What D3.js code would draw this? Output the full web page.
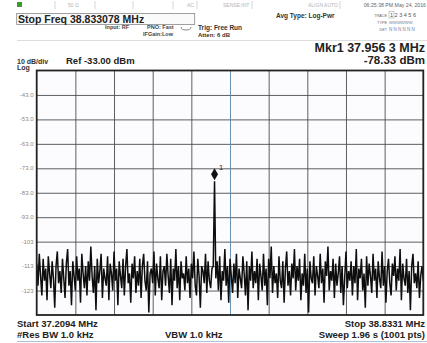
<!DOCTYPE html>
<html>
<head>
<meta charset="utf-8">
<script src="https://cdn.jsdelivr.net/npm/d3@7"></script>
<style>
  body { margin: 0; background: #fff; }
  svg { display: block; font-family: "Liberation Sans", Arial, sans-serif; }
</style>
</head>
<body>
<svg id="chart" width="427" height="343"></svg>
<script>
// sweep settings
const startFreq = 37.2094;
const stopFreq = 38.8331;
const refLevel = -33;
const bottomLevel = -133;

// grid ticks
const yTicks = [-43, -53, -63, -73, -83, -93, -103, -113, -123];
const yTickLabels = ["-43.0", "-53.0", "-63.0", "-73.0", "-83.0", "-93.0", "-103", "-113", "-123"];
const xDivisions = [0, 1, 2, 3, 4, 5, 6, 7, 8, 9, 10];

// marker
const markerFreq = 37.9563;
const markerLevel = -78.33;

// trace (dBm)
const trace = [
  -112,-121,-108,-117,-125,-110,-119,-114,-127,-109,-116,-122,-111,-118,-130,-113,-107,-120,-115,-124,
  -110,-118,-126,-112,-106,-121,-115,-129,-111,-117,-123,-109,-119,-114,-128,-108,-116,-122,-113,-125,
  -111,-119,-105,-117,-124,-113,-131,-110,-120,-115,-108,-126,-114,-118,-121,-109,-127,-112,-116,-123,
  -107,-119,-114,-129,-111,-117,-122,-110,-125,-113,-106,-120,-116,-128,-112,-118,-109,-124,-115,-121,
  -110,-126,-113,-108,-119,-123,-111,-132,-116,-114,-120,-107,-125,-112,-118,-122,-109,-127,-115,-113,
  -121,-108,-117,-124,-110,-129,-114,-119,-106,-122,-113,-127,-111,-118,-116,-123,-109,-120,-114,-126,
  -112,-118,-107,-121,-125,-110,-117,-130,-113,-115,-120,-108,-124,-111,-119,-122,-114,-113,-78.33,-118,
  -111,-123,-109,-127,-115,-119,-106,-121,-113,-128,-110,-117,-124,-112,-120,-108,-126,-114,-118,-122,
  -109,-116,-125,-111,-131,-113,-119,-107,-122,-115,-120,-110,-127,-112,-117,-123,-108,-121,-114,-129,
  -110,-118,-105,-124,-113,-120,-116,-126,-109,-119,-122,-111,-128,-114,-107,-121,-115,-125,-112,-118,
  -106,-123,-113,-119,-110,-127,-116,-121,-108,-124,-114,-132,-111,-118,-120,-109,-125,-113,-117,-122,
  -108,-120,-114,-128,-111,-117,-105,-123,-115,-119,-110,-126,-112,-121,-116,-109,-124,-113,-129,-118,
  -107,-122,-115,-119,-111,-125,-113,-120,-106,-127,-114,-118,-110,-123,-116,-130,-109,-121,-112,-117,
  -124,-108,-119,-114,-126,-111,-118,-122,-107,-121,-113,-128,-115,-110,-120,-125,-112,-117,-109,-123,
  -114,-119,-106,-127,-112,-118,-121,-110,-124,-115,-131,-113,-108,-120,-116,-122,-111,-126,-117,-113,
  -119
];

const svg = d3.select("#chart");
const plot = { left: 36.7, right: 423.3, top: 70.5, bottom: 315 };
const w = plot.right - plot.left;
const h = plot.bottom - plot.top;

const x = d3.scaleLinear().domain([startFreq, stopFreq]).range([plot.left, plot.right]);
const y = d3.scaleLinear().domain([bottomLevel, refLevel]).range([plot.bottom, plot.top]);
const xDiv = d3.scaleLinear().domain([0, 10]).range([plot.left, plot.right]);

const bold = (sel, size) => sel.attr("font-weight", "bold").attr("font-size", size);

// ---- status bar
const grey = "#b4b4b4";
svg.append("rect").attr("x", 17).attr("y", 2).attr("width", 5).attr("height", 5).attr("fill", "#3a9a2a");
[55, 95, 133, 173, 197, 252, 340].forEach(px => {
  svg.append("line").attr("x1", px).attr("x2", px).attr("y1", 1).attr("y2", 9)
    .attr("stroke", "#ccc").attr("stroke-width", 0.8);
});
svg.append("text").attr("x", 68).attr("y", 7).attr("font-size", 5).attr("fill", grey).text("50 Ω");
svg.append("text").attr("x", 187).attr("y", 7).attr("font-size", 5).attr("fill", grey).text("AC");
svg.append("text").attr("x", 223).attr("y", 7).attr("font-size", 5).attr("fill", grey).text("SENSE:INT");
svg.append("text").attr("x", 308).attr("y", 7).attr("font-size", 5).attr("fill", grey).text("ALIGN AUTO");
svg.append("text").attr("x", 426).attr("y", 7).attr("text-anchor", "end").attr("font-size", 5.2)
  .attr("fill", "#666").text("06:25:38 PM May 24, 2016");

// ---- active function box
svg.append("rect").attr("x", 16.7).attr("y", 13.5).attr("width", 178).attr("height", 11)
  .attr("fill", "#fafafa").attr("stroke", "#888").attr("stroke-width", 0.8);
svg.append("text").attr("x", 18).attr("y", 23).call(bold, 10.5).attr("fill", "#222").text("Stop Freq");
svg.append("text").attr("x", 70).attr("y", 23).call(bold, 10.5).attr("fill", "#222").text("38.833078 MHz");

svg.append("text").attr("x", 105).attr("y", 29).call(bold, 5.5).attr("fill", "#444").text("Input: RF");
svg.append("text").attr("x", 147).attr("y", 29).call(bold, 5.5).attr("fill", "#444").text("PNO: Fast");
svg.append("text").attr("x", 143).attr("y", 35.5).call(bold, 5.5).attr("fill", "#444").text("IFGain:Low");
svg.append("path").attr("d", "M181,27 q0,3 5,3 q5,0 5,-3").attr("fill", "none").attr("stroke", "#555").attr("stroke-width", 0.7);
svg.append("text").attr("x", 198).attr("y", 29.5).call(bold, 6.5).attr("fill", "#333").text("Trig: Free Run");
svg.append("text").attr("x", 198).attr("y", 37).call(bold, 6).attr("fill", "#333").text("Atten: 6 dB");
svg.append("text").attr("x", 276).attr("y", 18).call(bold, 6.5).attr("fill", "#333").text("Avg Type: Log-Pwr");

svg.append("text").attr("x", 387).attr("y", 17).attr("text-anchor", "end").attr("font-size", 3.8).attr("fill", "#666").text("TRACE");
svg.append("text").attr("x", 387).attr("y", 24).attr("text-anchor", "end").attr("font-size", 3.8).attr("fill", "#666").text("TYPE");
svg.append("text").attr("x", 387).attr("y", 31).attr("text-anchor", "end").attr("font-size", 3.8).attr("fill", "#666").text("DET");
svg.append("rect").attr("x", 389).attr("y", 11.5).attr("width", 5).attr("height", 6.5).attr("fill", "none").attr("stroke", "#999").attr("stroke-width", 0.5);
svg.append("text").attr("x", 390).attr("y", 17).attr("font-size", 5.5).attr("fill", "#555").text("1 2 3 4 5 6");
svg.append("text").attr("x", 389).attr("y", 24).attr("font-size", 4.2).attr("fill", "#7a7a9a").text("WWWWWW");
svg.append("text").attr("x", 389).attr("y", 31).attr("font-size", 4.5).attr("fill", "#7a7a9a").text("N N N N N N");

svg.append("line").attr("x1", 17).attr("x2", 427).attr("y1", 40.5).attr("y2", 40.5)
  .attr("stroke", "#d4d4d4").attr("stroke-width", 0.8);

// ---- marker readout
svg.append("text").attr("x", 425).attr("y", 52).attr("text-anchor", "end").call(bold, 12.5).attr("fill", "#222")
  .text("Mkr1 37.956 3 MHz");
svg.append("text").attr("x", 425).attr("y", 64).attr("text-anchor", "end").call(bold, 11.5).attr("fill", "#222")
  .text(markerLevel.toFixed(2) + " dBm");

svg.append("text").attr("x", 17).attr("y", 63.5).call(bold, 7).attr("fill", "#333").text("10 dB/div");
svg.append("text").attr("x", 17).attr("y", 70).call(bold, 7).attr("fill", "#333").text("Log");
svg.append("text").attr("x", 66).attr("y", 63.5).call(bold, 9.5).attr("fill", "#222").text("Ref " + refLevel.toFixed(2) + " dBm");

// ---- graticule
svg.append("rect").attr("x", plot.left).attr("y", plot.top).attr("width", w).attr("height", h).attr("fill", "#fcfcfe");

svg.append("g")
  .attr("transform", `translate(${plot.left},0)`)
  .call(d3.axisLeft(y).tickValues(yTicks).tickSize(-w).tickFormat(""))
  .call(g => g.select(".domain").remove())
  .call(g => g.selectAll(".tick line").attr("stroke", "#4d4d50").attr("stroke-width", 0.9));

svg.append("g")
  .attr("transform", `translate(0,${plot.top})`)
  .call(d3.axisBottom(xDiv).tickValues(xDivisions.slice(1, 10)).tickSize(h).tickFormat(""))
  .call(g => g.select(".domain").remove())
  .call(g => g.selectAll(".tick line").attr("stroke", (d) => d === 5 ? "#5a86aa" : "#4d4d50").attr("stroke-width", 0.9));

yTicks.forEach((v, i) => {
  svg.append("text").attr("x", 33.5).attr("y", y(v) + 2).attr("text-anchor", "end")
    .attr("font-size", 6).attr("fill", "#8a8a8a").text(yTickLabels[i]);
});

// ---- trace
const step = (stopFreq - startFreq) / (trace.length - 1);
svg.append("path")
  .datum(trace)
  .attr("fill", "none")
  .attr("stroke", "#0d0d0d")
  .attr("stroke-width", 1.5)
  .attr("stroke-linejoin", "miter")
  .attr("d", d3.line()
    .x((d, i) => x(startFreq + i * step))
    .y(d => y(Math.max(d, bottomLevel))));

svg.append("rect").attr("x", plot.left).attr("y", plot.top).attr("width", w).attr("height", h)
  .attr("fill", "none").attr("stroke", "#222").attr("stroke-width", 1.8);

// ---- marker
const mx = x(markerFreq), my = y(markerLevel);
svg.append("path")
  .attr("d", `M${mx},${my - 13} L${mx + 3.5},${my - 7} L${mx},${my - 1} L${mx - 3.5},${my - 7} Z`)
  .attr("fill", "#111");
svg.append("text").attr("x", mx + 4.5).attr("y", my - 11).attr("font-size", 7.5).attr("fill", "#222").text("1");

// ---- footer
svg.append("text").attr("x", 17).attr("y", 327).call(bold, 9.5).attr("fill", "#222").text("Start " + startFreq.toFixed(4) + " MHz");
svg.append("text").attr("x", 17).attr("y", 337.5).call(bold, 9.5).attr("fill", "#222").text("#Res BW 1.0 kHz");
svg.append("text").attr("x", 165).attr("y", 337.5).call(bold, 9.5).attr("fill", "#222").text("VBW 1.0 kHz");
svg.append("text").attr("x", 425).attr("y", 327).attr("text-anchor", "end").call(bold, 9.5).attr("fill", "#222").text("Stop " + stopFreq.toFixed(4) + " MHz");
svg.append("text").attr("x", 425).attr("y", 337.5).attr("text-anchor", "end").call(bold, 9.5).attr("fill", "#222").text("Sweep  1.96 s (1001 pts)");
svg.append("line").attr("x1", 17).attr("x2", 427).attr("y1", 341.5).attr("y2", 341.5)
  .attr("stroke", "#a9c4dc").attr("stroke-width", 1);
</script>
</body>
</html>
